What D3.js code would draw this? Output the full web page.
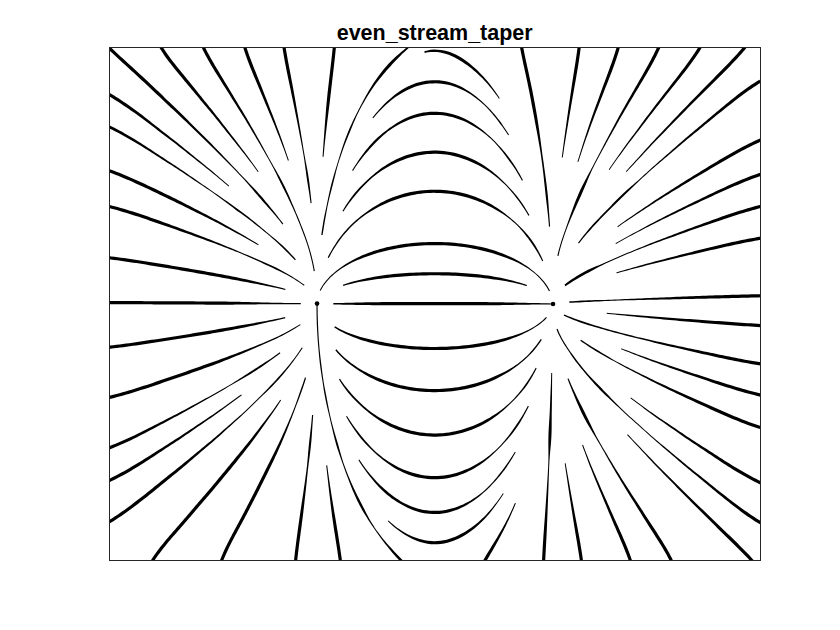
<!DOCTYPE html>
<html><head><meta charset="utf-8">
<script src="https://cdn.jsdelivr.net/npm/d3@7/dist/d3.min.js"></script>
<style>body{margin:0;background:#fff}svg{display:block}</style>
</head><body>
<svg id="chart" width="840" height="630"></svg>
<script>
// ---------------- data ----------------
const chartTitle = "even_stream_taper";
const xGrid = [-2,-1.8,-1.6,-1.4,-1.2,-1,-0.8,-0.6,-0.4,-0.2,0,0.2,0.4,0.6,0.8,1,1.2,1.4,1.6,1.8,2];
const yGrid = [-2,-1.8,-1.6,-1.4,-1.2,-1,-0.8,-0.6,-0.4,-0.2,0,0.2,0.4,0.6,0.8,1,1.2,1.4,1.6,1.8,2];
const gridStep = 0.2;
// sampled surface z = x*exp(-x^2-y^2); the streamlines follow its gradient
const zSurface = yGrid.map(y => xGrid.map(x => x * Math.exp(-x * x - y * y)));
const firstSeed = [-0.62, -1.0];
const spacing = { sep: 0.23, test: 0.1 };

// ---------------- layout ----------------
const W = 840, H = 630;
const plot = { left: 109.2, right: 760.2, top: 47.25, bottom: 560.7 };
const xs = d3.scaleLinear().domain([xGrid[0], xGrid[xGrid.length - 1]]).range([plot.left, plot.right]);
const ys = d3.scaleLinear().domain([yGrid[0], yGrid[yGrid.length - 1]]).range([plot.bottom, plot.top]);

// ---------------- gradient field (MATLAB gradient) ----------------
const nx = xGrid.length, ny = yGrid.length, h = gridStep;
const Z = zSurface;
const DX = Z.map(row => row.map((_, i) => i === 0 ? (row[1] - row[0]) / h : i === nx - 1 ? (row[nx - 1] - row[nx - 2]) / h : (row[i + 1] - row[i - 1]) / (2 * h)));
const DY = Z.map((row, j) => row.map((_, i) => j === 0 ? (Z[1][i] - Z[0][i]) / h : j === ny - 1 ? (Z[ny - 1][i] - Z[ny - 2][i]) / h : (Z[j + 1][i] - Z[j - 1][i]) / (2 * h)));
const X0 = xGrid[0], X1 = xGrid[nx - 1], Y0 = yGrid[0], Y1 = yGrid[ny - 1];
function inside(x, y) { return x >= X0 && x <= X1 && y >= Y0 && y <= Y1; }
function field(x, y) {
  if (!inside(x, y)) return null;
  const fx = (x - X0) / h, fy = (y - Y0) / h;
  const i = Math.min(Math.floor(fx), nx - 2), j = Math.min(Math.floor(fy), ny - 2);
  const tx = fx - i, ty = fy - j;
  const b = M => (M[j][i] * (1 - tx) + M[j][i + 1] * tx) * (1 - ty) + (M[j + 1][i] * (1 - tx) + M[j + 1][i + 1] * tx) * ty;
  return [b(DX), b(DY)];
}
function dir(x, y) {
  const f = field(x, y); if (!f) return null;
  const m = Math.hypot(f[0], f[1]); if (m < 1e-12) return null;
  return [f[0] / m, f[1] / m];
}

// ---------------- evenly spaced streamlines (Jobard-Lefer) ----------------
const dsep = spacing.sep, dtest = spacing.test, step = 0.01;
const cellSize = dsep;
const cells = new Map();
function ckey(ci, cj) { return (ci + 10) + (cj + 10) * 1000; }
function addPoints(pts, id) {
  pts.forEach(p => {
    const k = ckey(Math.floor((p[0] - X0) / cellSize), Math.floor((p[1] - Y0) / cellSize));
    if (!cells.has(k)) cells.set(k, []);
    cells.get(k).push([p[0], p[1], id]);
  });
}
function tooClose(x, y, d) {
  const ci = Math.floor((x - X0) / cellSize), cj = Math.floor((y - Y0) / cellSize);
  const r = Math.ceil(d / cellSize), d2 = d * d;
  for (let a = -r; a <= r; a++) for (let b = -r; b <= r; b++) {
    const arr = cells.get(ckey(ci + a, cj + b)); if (!arr) continue;
    for (const p of arr) { const dx = p[0] - x, dy = p[1] - y; if (dx * dx + dy * dy < d2) return true; }
  }
  return false;
}
function traceHalf(x, y, sgn) {
  const pts = []; let prev = null, crit = false;
  for (let k = 0; k < 5000; k++) {
    const d1 = dir(x, y); if (!d1) break;
    const a = [sgn * d1[0], sgn * d1[1]];
    if (prev && a[0] * prev[0] + a[1] * prev[1] < 0) { crit = true; break; }
    const d2 = dir(x + a[0] * step / 2, y + a[1] * step / 2);
    if (!d2) { pts.push([x + a[0] * step, y + a[1] * step]); break; }
    const b = [sgn * d2[0], sgn * d2[1]];
    if (b[0] * a[0] + b[1] * a[1] < 0) { crit = true; break; }
    const px = x + b[0] * step, py = y + b[1] * step;
    if (!inside(px, py)) { pts.push([px, py]); break; }
    if (tooClose(px, py, dtest)) break;
    pts.push([px, py]); prev = b; x = px; y = py;
  }
  return { pts, crit };
}
const lines = [];
function traceLine(sx, sy) {
  const f = traceHalf(sx, sy, 1), bk = traceHalf(sx, sy, -1);
  const pts = bk.pts.slice().reverse().concat([[sx, sy]], f.pts);
  return { pts, critStart: bk.crit, critEnd: f.crit };
}
function accept(L) {
  if (L.pts.length < 8) return false;
  L.id = lines.length; lines.push(L); addPoints(L.pts, L.id); return true;
}
function propagate(start) {
  for (let q = start; q < lines.length; q++) {
    const P = lines[q].pts;
    for (let k = 0; k < P.length; k += 3) {
      const o = P[Math.max(k - 1, 0)], n = P[Math.min(k + 1, P.length - 1)], p = P[k];
      let tx = n[0] - o[0], ty = n[1] - o[1]; const m = Math.hypot(tx, ty); if (m === 0) continue;
      tx /= m; ty /= m;
      for (const s of [1, -1]) {
        const sx = p[0] - ty * dsep * s, sy = p[1] + tx * dsep * s;
        if (!inside(sx, sy)) continue;
        if (tooClose(sx, sy, dsep * 0.995)) continue;
        accept(traceLine(sx, sy));
      }
    }
  }
}
accept(traceLine(firstSeed[0], firstSeed[1]));
propagate(0);
for (let gx = X0 + 0.05; gx < X1; gx += 0.1) for (let gy = Y0 + 0.05; gy < Y1; gy += 0.1) {
  if (!tooClose(gx, gy, dsep)) {
    const n0 = lines.length;
    if (accept(traceLine(gx, gy))) propagate(n0);
  }
}

// ---------------- taper widths from local spacing ----------------
function nearestOther(x, y, id, cap) {
  const ci = Math.floor((x - X0) / cellSize), cj = Math.floor((y - Y0) / cellSize);
  const r = Math.ceil(cap / cellSize); let best = cap * cap;
  for (let a = -r; a <= r; a++) for (let b = -r; b <= r; b++) {
    const arr = cells.get(ckey(ci + a, cj + b)); if (!arr) continue;
    for (let t = 0; t < arr.length; t += 2) {
      const p = arr[t]; if (p[2] === id) continue;
      const dx = p[0] - x, dy = p[1] - y, dd = dx * dx + dy * dy; if (dd < best) best = dd;
    }
  }
  return Math.sqrt(best);
}
function widthOf(d) { return 0.35 + 2.85 * Math.max(0, Math.min(1, (d - 0.08) / 0.12)); }

// ---------------- draw ----------------
const svg = d3.select("#chart");
svg.append("rect").attr("width", W).attr("height", H).attr("fill", "#fff");
svg.append("defs").append("clipPath").attr("id", "clip").append("rect")
  .attr("x", plot.left).attr("y", plot.top).attr("width", plot.right - plot.left).attr("height", plot.bottom - plot.top);
const g = svg.append("g").attr("clip-path", "url(#clip)");
const lineGen = d3.line();
lines.forEach(L => {
  const P = L.pts.filter((_, i) => i % 2 === 0 || i === L.pts.length - 1);
  if (P.length < 2) return;
  let wd = P.map(p => widthOf(nearestOther(p[0], p[1], L.id, 0.4)));
  const sm = wd.map((_, i) => { let s = 0, c = 0; for (let k = -4; k <= 4; k++) { const j = i + k; if (j >= 0 && j < wd.length) { s += wd[j]; c++; } } return s / c; });
  const px = P.map(p => [xs(p[0]), ys(p[1])]);
  const left = [], right = [];
  px.forEach((p, i) => {
    const a = px[Math.max(i - 1, 0)], b = px[Math.min(i + 1, px.length - 1)];
    let tx = b[0] - a[0], ty = b[1] - a[1]; const m = Math.hypot(tx, ty) || 1; tx /= m; ty /= m;
    const hw = sm[i] / 2;
    left.push([p[0] - ty * hw, p[1] + tx * hw]);
    right.push([p[0] + ty * hw, p[1] - tx * hw]);
  });
  g.append("path").attr("d", lineGen(left.concat(right.reverse())) + "Z").attr("fill", "#000");
  if (L.critStart) g.append("circle").attr("cx", px[0][0]).attr("cy", px[0][1]).attr("r", 2.3).attr("fill", "#000");
  if (L.critEnd) g.append("circle").attr("cx", px[px.length - 1][0]).attr("cy", px[px.length - 1][1]).attr("r", 2.3).attr("fill", "#000");
});
svg.append("rect").attr("x", 109.5).attr("y", 47.5).attr("width", 651).attr("height", 513)
  .attr("fill", "none").attr("stroke", "#262626").attr("stroke-width", 1);
svg.append("text").attr("x", (plot.left + plot.right) / 2).attr("y", 40)
  .attr("text-anchor", "middle").attr("font-family", "Liberation Sans, Arial, Helvetica, sans-serif")
  .attr("font-weight", "bold").attr("font-size", 21.5).attr("fill", "#000").text(chartTitle);
</script>
</body></html>
